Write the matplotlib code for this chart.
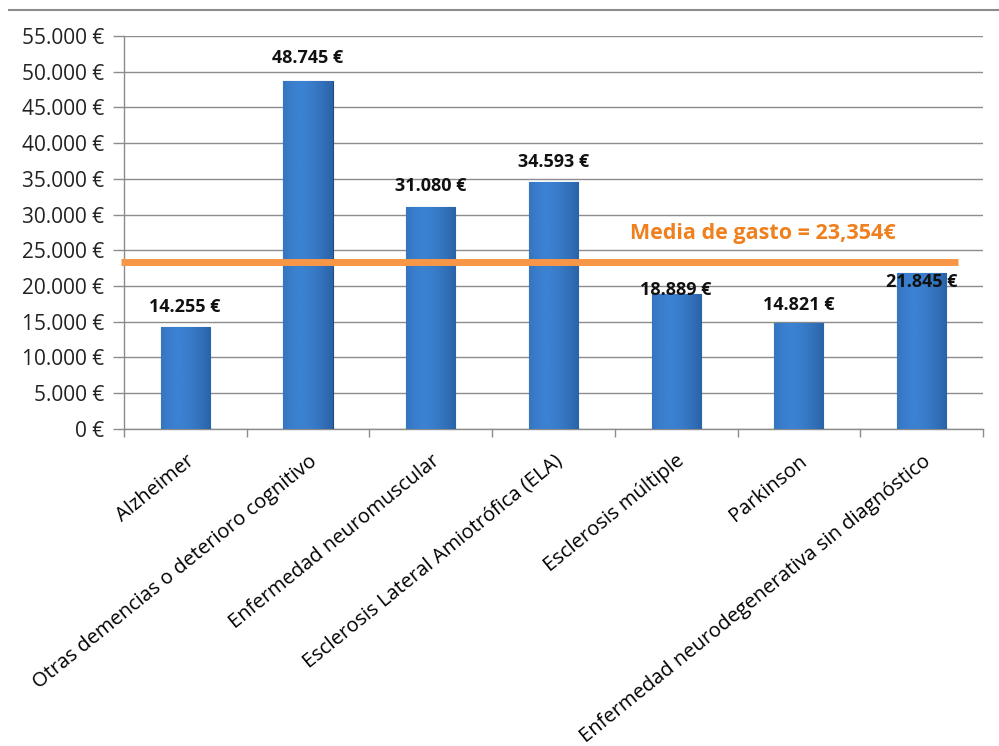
import numpy as np
import matplotlib
matplotlib.use('Agg')
import matplotlib.pyplot as plt
from matplotlib.ticker import FuncFormatter, MultipleLocator

plt.rcParams['font.family'] = ['Open Sans', 'DejaVu Sans']

# Datos
categorias = ['Alzheimer',
              'Otras demencias o deterioro cognitivo',
              'Enfermedad neuromuscular',
              'Esclerosis Lateral Amiotrófica (ELA)',
              'Esclerosis múltiple',
              'Parkinson',
              'Enfermedad neurodegenerativa sin diagnóstico']
gasto = [14255, 48745, 31080, 34593, 18889, 14821, 21845]
etiquetas = ['14.255 €', '48.745 €', '31.080 €', '34.593 €', '18.889 €', '14.821 €', '21.845 €']
media = 23354
texto_media = 'Media de gasto = 23,354€'
# desplazamiento vertical de cada etiqueta (puntos)
desplaz = [14.5, 16, 15, 14, 3, 13, -6.5]

fig = plt.figure(figsize=(9.99, 7.46), dpi=100)
ax = fig.add_axes([0.124, 0.425, 0.86, 0.527])

x = np.arange(len(categorias))
barras = ax.bar(x, gasto, width=0.4, color='#3572BF', edgecolor='#1F4A80', linewidth=0.8, zorder=3)

# degradado horizontal en cada barra
grad = np.linspace(0, 1, 64)
perfil = 1 - 0.55 * np.abs(grad - 0.35) ** 1.5
img = np.outer(np.ones(2), perfil)
cmap = matplotlib.colors.LinearSegmentedColormap.from_list('azul', ['#1D4C8A', '#3C82D2'])
for b in barras:
    x0, y0 = b.get_x(), b.get_y()
    w, h = b.get_width(), b.get_height()
    im = ax.imshow(img, cmap=cmap, vmin=0.5, vmax=1, aspect='auto',
                   extent=[x0, x0 + w, y0, y0 + h], zorder=3.5)
    im.set_clip_path(b)

for xi, v, et, d in zip(x, gasto, etiquetas, desplaz):
    ax.annotate(et, (xi, v), xytext=(0, d), textcoords='offset points',
                ha='center', va='center', fontsize=13, fontweight='bold', color='#111111', zorder=5)

# línea de la media
ax.plot([-0.52, 6.3], [media, media], color='#F79646', linewidth=5, solid_capstyle='butt',
        clip_on=False, zorder=4)
ax.text(3.62, media + 3950, texto_media, color='#F07F1E', fontsize=15.5, fontweight='bold',
        ha='left', va='center', zorder=5)

ax.set_xlim(-0.5, 6.5)
ax.set_ylim(0, 55000)
ax.yaxis.set_major_locator(MultipleLocator(5000))
ax.yaxis.set_major_formatter(FuncFormatter(lambda v, p: '{:,.0f} €'.format(v).replace(',', '.')))
ax.grid(axis='y', color='#8C8C8C', linewidth=1, zorder=0)
ax.set_axisbelow(True)

ax.set_xticks(x)
ax.set_xticklabels(categorias, rotation=39, ha='right', rotation_mode='anchor', fontsize=14.5)
ax.set_xticks(np.arange(-0.5, 7, 1), minor=True)
ax.tick_params(axis='x', which='major', length=0, pad=16)
ax.tick_params(axis='x', which='minor', length=6, color='#8C8C8C', width=1)
ax.tick_params(axis='y', length=8, color='#8C8C8C', width=1, labelsize=15, pad=6, labelcolor='#222222')

for s in ['top', 'right']:
    ax.spines[s].set_visible(False)
for s in ['left', 'bottom']:
    ax.spines[s].set_color('#8C8C8C')
    ax.spines[s].set_linewidth(1)

# línea superior del marco
fig.add_artist(plt.Line2D([0.009, 1.0], [0.987, 0.987], color='#8C8C8C', linewidth=1.5))

fig.savefig('out.png', dpi=100)
